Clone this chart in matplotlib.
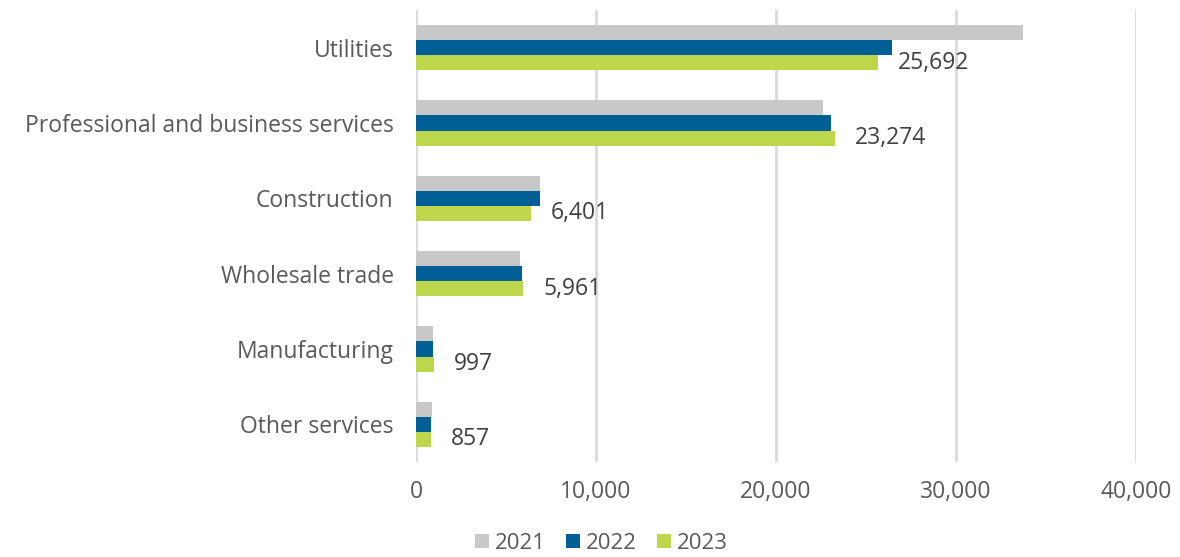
import matplotlib.pyplot as plt
import numpy as np

plt.rcParams['font.family'] = ['Open Sans', 'DejaVu Sans']

categories = ["Utilities", "Professional and business services", "Construction",
              "Wholesale trade", "Manufacturing", "Other services"]
v2021 = [33700, 22620, 6900, 5800, 930, 870]
v2022 = [26420, 23040, 6870, 5890, 960, 830]
v2023 = [25692, 23274, 6401, 5961, 997, 857]
years = ["2021", "2022", "2023"]
colors = ["#c8c8c8", "#005f94", "#bed64b"]

fig = plt.figure(figsize=(11.8, 5.57), dpi=100)
ax = fig.add_axes([0.3525, 0.1706, 0.6102, 0.8114])

y = np.arange(len(categories))
h = 0.2
for k, (vals, lab, c) in enumerate(zip([v2021, v2022, v2023], years, colors)):
    ax.barh(y + (k - 1) * h, vals, height=h, color=c, label=lab, zorder=3)

# labels only on 2023
for yi, v in zip(y, v2023):
    ax.text(v + 1100, yi + h, f"{v:,}", va='center', ha='left',
            fontsize=16.5, color='#404040')

ax.set_ylim(len(categories) - 0.5, -0.5)
ax.set_xlim(0, 40000)
ax.set_yticks(y)
ax.set_yticklabels(categories, fontsize=16.5, color='#595959')
ax.set_xticks([0, 10000, 20000, 30000, 40000])
ax.set_xticklabels(["0", "10,000", "20,000", "30,000", "40,000"], fontsize=16.5, color='#595959')
ax.tick_params(length=0)
ax.tick_params(axis='y', pad=16)
ax.tick_params(axis='x', pad=13)
ax.grid(axis='x', color='#d9d9d9', linewidth=2, zorder=0)
for s in ax.spines.values():
    s.set_visible(False)

leg = fig.legend(loc='lower center', bbox_to_anchor=(0.51, -0.03), ncol=3, frameon=False,
                 fontsize=16, handlelength=0.6, handleheight=0.6, handletextpad=0.3,
                 columnspacing=0.9, labelcolor='#595959')

fig.savefig("out.png", dpi=100)
